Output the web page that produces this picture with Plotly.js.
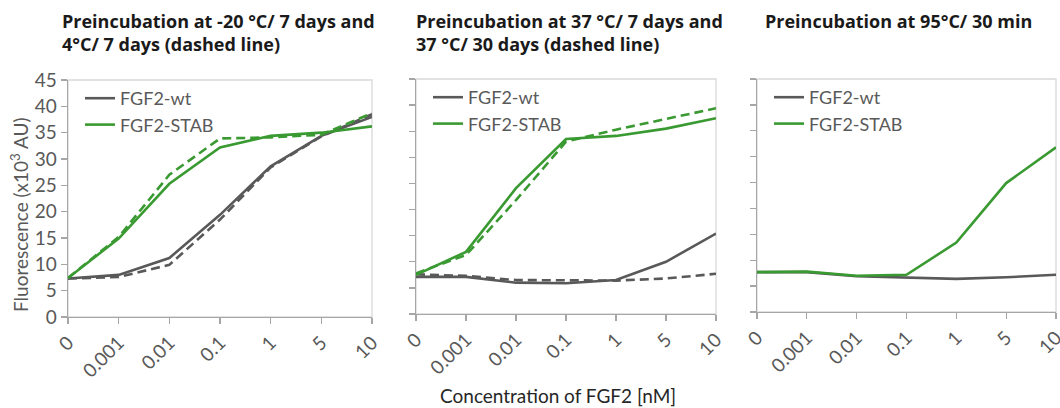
<!DOCTYPE html>
<html>
<head>
<meta charset="utf-8">
<script src="https://cdn.plot.ly/plotly-3.0.1.min.js"></script>
<style>html,body{margin:0;padding:0;background:#fff}#chart{width:1060px;height:408px}</style>
</head>
<body>
<div id="chart"></div>
<script>
// ---- data ----
var categories = ["0", "0.001", "0.01", "0.1", "1", "5", "10"];
var seriesNames = ["FGF2-wt", "FGF2-STAB"];
var yTicks = [0, 5, 10, 15, 20, 25, 30, 35, 40, 45];

// Panel 1: -20 °C / 7 days (solid) and 4 °C / 7 days (dashed)
var p1_wt        = [7.3, 8.0, 11.2, 19.4, 28.6, 34.4, 38.0];
var p1_wt_dash   = [7.3, 7.6, 9.9, 18.5, 28.4, 34.3, 38.5];
var p1_stab      = [7.4, 14.9, 25.3, 32.2, 34.4, 35.0, 36.2];
var p1_stab_dash = [7.4, 15.2, 27.0, 33.9, 34.1, 34.6, 38.7];

// Panel 2: 37 °C / 7 days (solid) and 37 °C / 30 days (dashed)
var p2_wt        = [7.1, 7.1, 6.0, 5.9, 6.5, 10.0, 15.4];
var p2_wt_dash   = [7.6, 7.3, 6.5, 6.5, 6.4, 6.8, 7.7];
var p2_stab      = [7.5, 11.9, 24.1, 33.5, 34.1, 35.5, 37.5];
var p2_stab_dash = [7.8, 11.3, 21.8, 33.0, 35.3, 37.4, 39.4];

// Panel 3: 95 °C / 30 min
var p3_wt   = [7.7, 7.7, 6.9, 6.7, 6.4, 6.7, 7.2];
var p3_stab = [7.7, 7.8, 7.0, 7.2, 13.4, 24.9, 31.8];

var titles = [
  "Preincubation at -20 °C/ 7 days and<br>4°C/ 7 days (dashed line)",
  "Preincubation at 37 °C/ 7 days and<br>37 °C/ 30 days (dashed line)",
  "Preincubation at 95°C/ 30 min"
];

// ---- styles ----
var GRAY = "#595959", GREEN = "#3a9a32";
var LW = 2.6;
var DASH = "9px,5px";
var W = 1060, H = 408;
function px(x){ return x / W; }
function py(y){ return 1 - y / H; }

function tr(y, xa, ya, color, dash, name, legend, show){
  return {
    x: categories, y: y, xaxis: xa, yaxis: ya, type: "scatter", mode: "lines",
    line: {color: color, width: LW, dash: dash || "solid"},
    name: name, legend: legend, showlegend: show, hoverinfo: "skip"
  };
}

var data = [
  tr(p1_wt_dash, "x", "y", GRAY, DASH, seriesNames[0], "legend", false),
  tr(p1_wt, "x", "y", GRAY, null, seriesNames[0], "legend", true),
  tr(p1_stab_dash, "x", "y", GREEN, DASH, seriesNames[1], "legend", false),
  tr(p1_stab, "x", "y", GREEN, null, seriesNames[1], "legend", true),

  tr(p2_wt_dash, "x2", "y2", GRAY, DASH, seriesNames[0], "legend2", false),
  tr(p2_wt, "x2", "y2", GRAY, null, seriesNames[0], "legend2", true),
  tr(p2_stab_dash, "x2", "y2", GREEN, DASH, seriesNames[1], "legend2", false),
  tr(p2_stab, "x2", "y2", GREEN, null, seriesNames[1], "legend2", true),

  tr(p3_wt, "x3", "y3", GRAY, null, seriesNames[0], "legend3", true),
  tr(p3_stab, "x3", "y3", GREEN, null, seriesNames[1], "legend3", true)
];

var FONT = "Lato, 'Open Sans', sans-serif";
var TICKCOL = "#595959";
var AXCOL = "#a6a6a6";

function xax(d, anchor){
  return {
    domain: d, anchor: anchor, type: "category", range: [0, categories.length - 1],
    showline: true, linecolor: AXCOL, linewidth: 1.3,
    ticks: "outside", ticklen: 6, tickcolor: AXCOL, tickwidth: 1.3,
    showgrid: false, zeroline: false, tickangle: -45,
    tickfont: {family: FONT, size: 19, color: TICKCOL}, fixedrange: true
  };
}
function yax(d, anchor, labels){
  return {
    domain: d, anchor: anchor, range: [0, 45], tickvals: yTicks,
    showline: true, linecolor: AXCOL, linewidth: 1.3,
    ticks: "outside", ticklen: 6, tickcolor: AXCOL, tickwidth: 1.3,
    showgrid: false, zeroline: false, showticklabels: labels,
    tickfont: {family: FONT, size: 19, color: TICKCOL}, fixedrange: true
  };
}

var panels = [
  {x: [68, 372], y: [80, 317]},
  {x: [416, 716], y: [79, 314]},
  {x: [757, 1056], y: [79, 312]}
];

function legendCfg(p){
  return {
    x: px(p.x[0] + 12), y: py(p.y[0]), xanchor: "left", yanchor: "top",
    bgcolor: "rgba(0,0,0,0)", borderwidth: 0, tracegroupgap: 0,
    itemwidth: 30, font: {family: FONT, size: 18, color: TICKCOL}
  };
}

var shapes = panels.map(function(p, i){
  var s = i === 0 ? "" : String(i + 1);
  return {type: "rect", xref: "x" + s + " domain", yref: "y" + s + " domain",
          x0: 0, x1: 1, y0: 0, y1: 1, line: {color: "#d9d9d9", width: 1.3}, layer: "below"};
});

var annotations = [
  {text: titles[0], x: px(60), y: py(7)},
  {text: titles[1], x: px(414), y: py(7)},
  {text: titles[2], x: px(763), y: py(7)}
].map(function(a){
  return {text: a.text, x: a.x, y: a.y, xref: "paper", yref: "paper",
          xanchor: "left", yanchor: "top", align: "left", showarrow: false,
          font: {family: "'Open Sans', 'Noto Sans', sans-serif", size: 18, color: "#1a1a1a", weight: 700}};
});
annotations.push({
  text: "Fluorescence (x10<sup>3</sup> AU)", textangle: -90,
  x: px(19), y: py(215), xref: "paper", yref: "paper", xanchor: "center", yanchor: "middle",
  showarrow: false, font: {family: FONT, size: 19, color: TICKCOL}
});
annotations.push({
  text: "Concentration of FGF2 [nM]",
  x: px(558), y: py(395), xref: "paper", yref: "paper", xanchor: "center", yanchor: "middle",
  showarrow: false, font: {family: FONT, size: 19, color: "#262626"}
});

var layout = {
  width: W, height: H, margin: {l: 0, r: 0, t: 0, b: 0},
  paper_bgcolor: "#fff", plot_bgcolor: "#fff",
  xaxis: xax([px(panels[0].x[0]), px(panels[0].x[1])], "y"),
  yaxis: yax([py(panels[0].y[1]), py(panels[0].y[0])], "x", true),
  xaxis2: xax([px(panels[1].x[0]), px(panels[1].x[1])], "y2"),
  yaxis2: yax([py(panels[1].y[1]), py(panels[1].y[0])], "x2", false),
  xaxis3: xax([px(panels[2].x[0]), px(panels[2].x[1])], "y3"),
  yaxis3: yax([py(panels[2].y[1]), py(panels[2].y[0])], "x3", false),
  legend: legendCfg(panels[0]),
  legend2: legendCfg(panels[1]),
  legend3: legendCfg(panels[2]),
  shapes: shapes,
  annotations: annotations,
  showlegend: true
};

Plotly.newPlot("chart", data, layout, {displayModeBar: false, staticPlot: true});
</script>
</body>
</html>
